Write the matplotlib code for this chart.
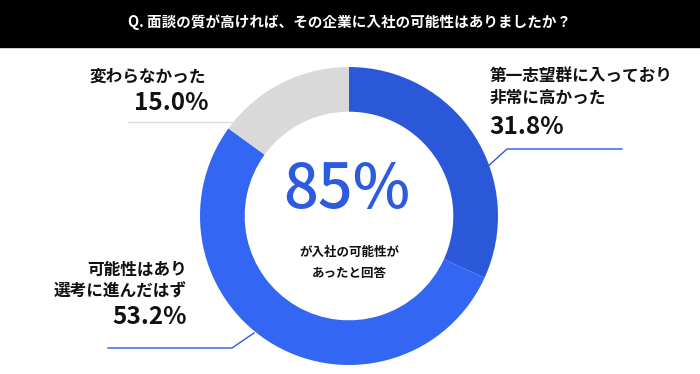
import matplotlib
matplotlib.use("Agg")
import matplotlib.pyplot as plt
from matplotlib.patches import Rectangle

plt.rcParams['font.family'] = ['Noto Sans CJK JP', 'DejaVu Sans']

# data
title = "Q. 面談の質が高ければ、その企業に入社の可能性はありましたか？"
labels = ["第一志望群に入っており\n非常に高かった", "可能性はあり\n選考に進んだはず", "変わらなかった"]
values = [31.8, 53.2, 15.0]
colors = ["#2b58d8", "#3366f2", "#d9d9d9"]
center_big = "85%"
center_small = "が入社の可能性が\nあったと回答"

W, H = 700, 374
fig = plt.figure(figsize=(7, 3.74), dpi=100)
ax = fig.add_axes([0, 0, 1, 1])

def Y(y):
    # image pixel row -> data y
    return H - y

cx, cy, r = 349, Y(216), 149
ax.pie(values, colors=colors, startangle=90, counterclock=False,
       center=(cx, cy), radius=r, frame=True,
       wedgeprops=dict(width=r * 0.30, linewidth=0))

ax.set_xlim(0, W)
ax.set_ylim(0, H)
ax.axis('off')

# header bar
ax.add_patch(Rectangle((0, Y(47)), W, 47, color="black", zorder=3))
ax.text(W / 2, Y(22), title, color="white", fontsize=10.5, fontweight='bold',
        ha='center', va='center', zorder=4)

# center texts
ax.text(cx - 2, Y(190), center_big, color="#2d5be0", fontsize=44, fontweight='medium',
        ha='center', va='center')
ax.text(cx, Y(263), center_small, color="#111111", fontsize=9, fontweight='bold',
        ha='center', va='center', linespacing=1.9)

# right label (31.8%)
ax.text(490, Y(87), labels[0], fontsize=12, fontweight='bold', ha='left', va='center',
        linespacing=1.25, color="#111111")
ax.text(489, Y(127), f"{values[0]}%", fontsize=17.5, fontweight='bold', ha='left', va='center',
        color="#111111")
ax.plot([622, 507, 486], [Y(149), Y(149), Y(168)], color="#2d5be0", lw=1)

# top-left label (15.0%)
ax.text(90, Y(77), labels[2], fontsize=12, fontweight='bold', ha='left', va='center',
        color="#111111")
ax.text(208, Y(103), f"{values[2]}%", fontsize=17.5, fontweight='bold', ha='right', va='center',
        color="#111111")
ax.plot([128, 244], [Y(122), Y(122)], color="#dddddd", lw=1)

# bottom-left label (53.2%)
ax.text(187, Y(281), labels[1], fontsize=12, fontweight='bold', ha='right', va='center',
        linespacing=1.25, color="#111111")
ax.text(187, Y(317), f"{values[1]}%", fontsize=17.5, fontweight='bold', ha='right', va='center',
        color="#111111")
ax.plot([108, 232, 254], [Y(348), Y(348), Y(333)], color="#2d5be0", lw=1)

fig.savefig("out.png", dpi=100)
